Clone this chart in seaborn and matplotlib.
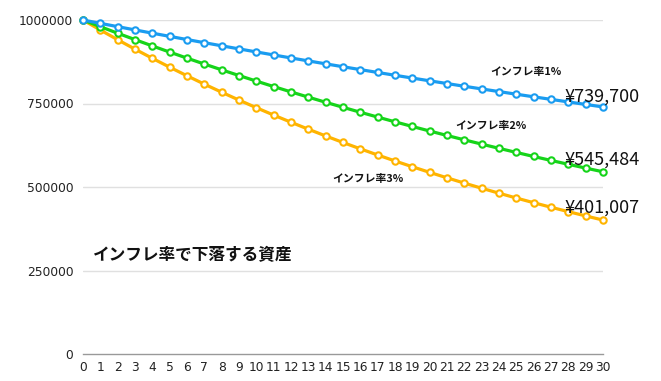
import matplotlib
matplotlib.use("Agg")
import matplotlib.pyplot as plt
import seaborn as sns
import pandas as pd

years = list(range(31))
rate1 = [1000000, 990000, 980100, 970299, 960596, 950990, 941480, 932065, 922745, 913517,
         904382, 895338, 886385, 877521, 868746, 860058, 851458, 842943, 834514, 826169,
         817907, 809728, 801631, 793614, 785678, 777821, 770043, 762343, 754719, 747172, 739700]
rate2 = [1000000, 980000, 960400, 941192, 922368, 903921, 885842, 868126, 850763, 833748,
         817073, 800731, 784717, 769022, 753642, 738569, 723798, 709322, 695135, 681233,
         667608, 654256, 641171, 628347, 615780, 603465, 591395, 579568, 567976, 556617, 545484]
rate3 = [1000000, 970000, 940900, 912673, 885293, 858734, 832972, 807983, 783743, 760231,
         737424, 715301, 693842, 673027, 652836, 633251, 614253, 595826, 577951, 560613,
         543794, 527480, 511656, 496306, 481417, 466975, 452965, 439377, 426195, 413409, 401007]
series_names = ["インフレ率1%", "インフレ率2%", "インフレ率3%"]
end_labels = ["¥739,700", "¥545,484", "¥401,007"]
title = "インフレ率で下落する資産"
yticks = [0, 250000, 500000, 750000, 1000000]

sns.set_theme(style="white")
plt.rcParams['font.family'] = ['Noto Sans CJK JP', 'DejaVu Sans']

df = pd.DataFrame({
    "year": years * 3,
    "value": rate1 + rate2 + rate3,
    "series": [series_names[0]] * 31 + [series_names[1]] * 31 + [series_names[2]] * 31,
})
colors = {series_names[0]: "#1a9cf0", series_names[1]: "#16d41a", series_names[2]: "#ffb400"}

fig = plt.figure(figsize=(6.61, 3.81), dpi=100)
ax = fig.add_axes([83/661, 1-354/381, 520/661, 334/381])

for name in reversed(series_names):
    sub = df[df["series"] == name]
    sns.lineplot(data=sub, x="year", y="value", color=colors[name], lw=2.3,
                 marker="o", markersize=4.6, markerfacecolor="white",
                 markeredgecolor=colors[name], markeredgewidth=1.5, ax=ax,
                 legend=False, clip_on=False, zorder=3)

ax.set_xlim(0, 30)
ax.set_ylim(0, 1000000)
ax.set_xticks(years)
ax.set_xticklabels([str(y) for y in years], fontsize=8.8, color="#222222")
ax.set_yticks(yticks)
ax.set_yticklabels([str(v) for v in yticks], fontsize=8.8, color="#222222")
ax.tick_params(axis="both", length=0)
ax.tick_params(axis="y", pad=7)
ax.tick_params(axis="x", pad=5)
for t in ax.get_xticklabels() + ax.get_yticklabels():
    t.set_fontfamily(['DejaVu Sans'])
for yv in yticks[1:]:
    ax.axhline(yv, color="#e0e0e0", lw=1, zorder=0)
for s in ["top", "right", "left"]:
    ax.spines[s].set_visible(False)
ax.spines["bottom"].set_color("#999999")
ax.spines["bottom"].set_linewidth(1)
ax.set_xlabel("")
ax.set_ylabel("")

lab_pos = [(23.5, 844000), (21.5, 682600), (14.4, 524000)]
end_pos = [(27.8, 769500), (27.8, 580800), (27.8, 437000)]
for i in range(3):
    ax.text(lab_pos[i][0], lab_pos[i][1], series_names[i], fontsize=7.8, va="center",
            ha="left", color="#111111", fontweight="bold")
    ax.text(end_pos[i][0], end_pos[i][1], end_labels[i], fontsize=13, va="center",
            ha="left", color="#111111", clip_on=False)
ax.text(0.55, 296000, title, fontsize=12, va="center", ha="left", color="#111111",
        fontweight="bold")

fig.savefig("out.png", dpi=100)
